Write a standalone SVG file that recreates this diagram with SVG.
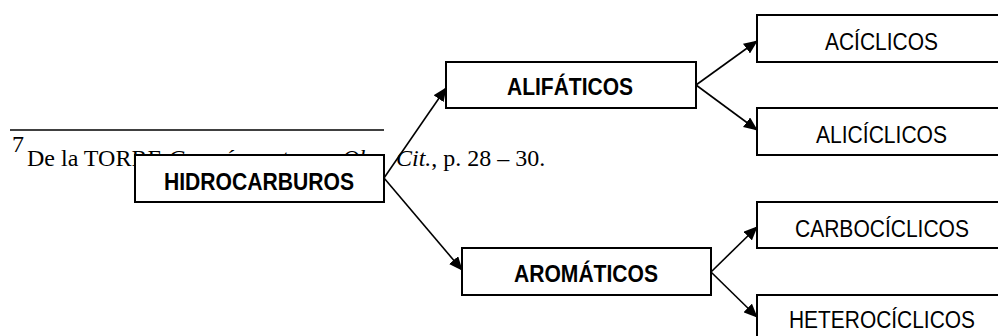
<svg xmlns="http://www.w3.org/2000/svg" width="998" height="336" viewBox="0 0 998 336">
<style>
.box{fill:#fff;stroke:#000;stroke-width:2}
.b{font-family:"Liberation Sans",Arial,sans-serif;font-weight:bold;font-size:24px;text-anchor:middle}
.r{font-family:"Liberation Sans",Arial,sans-serif;font-size:23px;text-anchor:middle}
.fn{font-family:"Liberation Serif","Times New Roman",serif;font-size:24px}
.c{stroke:#000;stroke-width:1.6;fill:none;marker-end:url(#ah)}
</style>
<defs>
<marker id="ah" markerWidth="14" markerHeight="12" refX="13" refY="6" orient="auto" markerUnits="userSpaceOnUse">
<path d="M0,0 L14,6 L0,12 Z" fill="#000"/>
</marker>
</defs>
<g id="footnote">
<line x1="10" y1="130" x2="384" y2="130" stroke="#000" stroke-width="1.3"/>
<text class="fn" x="12" y="152" font-size="16">7</text>
<text class="fn" x="27" y="166">De la TORRE <tspan font-style="italic">Germán y otros – Ob.</tspan></text>
<text class="fn" x="396" y="166"><tspan font-style="italic">Cit.</tspan>, p. 28 – 30.</text>
</g>
<g id="connectors">
<line class="c" x1="384" y1="178" x2="446" y2="88"/>
<line class="c" x1="384" y1="178" x2="462" y2="270"/>
<line class="c" x1="696" y1="85" x2="757" y2="41"/>
<line class="c" x1="696" y1="85" x2="757" y2="130"/>
<line class="c" x1="711" y1="272" x2="757" y2="227"/>
<line class="c" x1="711" y1="272" x2="757" y2="317"/>
</g>
<g id="hidrocarburos">
<rect class="box" x="135" y="155" width="249" height="47"/>
<text class="b" x="259" y="190" textLength="190" lengthAdjust="spacingAndGlyphs">HIDROCARBUROS</text>
</g>
<g id="alifaticos">
<rect class="box" x="446" y="62" width="250" height="46"/>
<text class="b" x="570" y="95" textLength="126" lengthAdjust="spacingAndGlyphs">ALIFÁTICOS</text>
</g>
<g id="aromaticos">
<rect class="box" x="462" y="248" width="249" height="47"/>
<text class="b" x="586" y="282" textLength="144" lengthAdjust="spacingAndGlyphs">AROMÁTICOS</text>
</g>
<g id="aciclicos">
<rect class="box" x="757" y="15" width="250" height="47"/>
<text class="r" x="881.5" y="50" textLength="113" lengthAdjust="spacingAndGlyphs">ACÍCLICOS</text>
</g>
<g id="aliciclicos">
<rect class="box" x="757" y="108" width="250" height="47"/>
<text class="r" x="881.5" y="143" textLength="131" lengthAdjust="spacingAndGlyphs">ALICÍCLICOS</text>
</g>
<g id="carbociclicos">
<rect class="box" x="757" y="202" width="250" height="46"/>
<text class="r" x="882" y="237" textLength="174" lengthAdjust="spacingAndGlyphs">CARBOCÍCLICOS</text>
</g>
<g id="heterociclicos">
<rect class="box" x="757" y="295" width="250" height="47"/>
<text class="r" x="882" y="328" textLength="186" lengthAdjust="spacingAndGlyphs">HETEROCÍCLICOS</text>
</g>
</svg>
